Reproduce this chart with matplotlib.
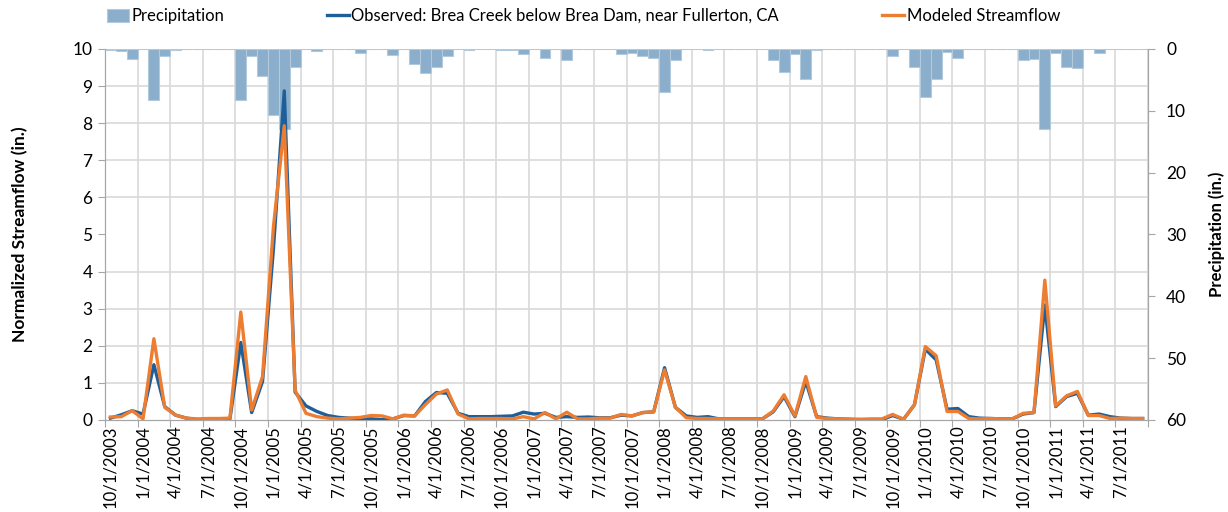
import numpy as np
import pandas as pd
import matplotlib
matplotlib.use("Agg")
import matplotlib.pyplot as plt

plt.rcParams['font.family'] = ['Lato', 'DejaVu Sans']

# monthly series, 10/2003 .. 9/2011
months = pd.date_range('2003-10-01', periods=96, freq='MS')

observed = [
    0.05, 0.14, 0.25, 0.16, 1.49, 0.36, 0.13, 0.05, 0.01, 0.00, 0.02, 0.03,
    2.09, 0.20, 1.04, 4.60, 8.87, 0.75, 0.38, 0.23, 0.12, 0.07, 0.05, 0.03,
    0.03, 0.01, 0.03, 0.12, 0.11, 0.50, 0.74, 0.72, 0.18, 0.09, 0.09, 0.09,
    0.10, 0.11, 0.21, 0.16, 0.18, 0.07, 0.09, 0.07, 0.08, 0.06, 0.06, 0.13,
    0.11, 0.20, 0.22, 1.41, 0.34, 0.11, 0.07, 0.09, 0.03, 0.03, 0.03, 0.03,
    0.03, 0.22, 0.63, 0.09, 1.04, 0.09, 0.05, 0.03, 0.02, 0.01, 0.00, 0.01,
    0.12, 0.02, 0.41, 1.91, 1.62, 0.29, 0.31, 0.09, 0.05, 0.04, 0.03, 0.03,
    0.16, 0.20, 3.10, 0.36, 0.63, 0.72, 0.13, 0.16, 0.09, 0.05, 0.04, 0.04,
]

modeled = [
    0.08, 0.09, 0.25, 0.03, 2.19, 0.34, 0.13, 0.05, 0.03, 0.04, 0.04, 0.05,
    2.91, 0.27, 1.17, 5.20, 7.93, 0.80, 0.18, 0.09, 0.05, 0.03, 0.05, 0.07,
    0.12, 0.11, 0.03, 0.13, 0.11, 0.42, 0.70, 0.81, 0.16, 0.03, 0.04, 0.04,
    0.04, 0.03, 0.09, 0.03, 0.20, 0.03, 0.21, 0.03, 0.03, 0.05, 0.05, 0.15,
    0.11, 0.20, 0.22, 1.35, 0.34, 0.06, 0.04, 0.04, 0.03, 0.03, 0.03, 0.03,
    0.03, 0.24, 0.68, 0.11, 1.17, 0.07, 0.04, 0.03, 0.02, 0.02, 0.03, 0.03,
    0.15, 0.02, 0.41, 1.98, 1.73, 0.23, 0.23, 0.04, 0.03, 0.04, 0.03, 0.03,
    0.18, 0.20, 3.77, 0.38, 0.65, 0.77, 0.12, 0.12, 0.04, 0.05, 0.04, 0.04,
]

precip = [
    0.2, 0.3, 1.6, 0.0, 8.3, 1.2, 0.2, 0.0, 0.0, 0.0, 0.0, 0.0,
    8.3, 1.1, 4.3, 10.7, 13.0, 2.9, 0.0, 0.3, 0.0, 0.0, 0.0, 0.6,
    0.0, 0.0, 0.9, 0.0, 2.5, 3.9, 2.9, 1.2, 0.0, 0.1, 0.0, 0.0,
    0.15, 0.2, 0.75, 0.0, 1.5, 0.0, 1.7, 0.0, 0.0, 0.0, 0.0, 0.75,
    0.6, 1.2, 1.5, 6.9, 1.7, 0.0, 0.0, 0.2, 0.0, 0.0, 0.0, 0.0,
    0.0, 1.8, 3.7, 0.75, 4.9, 0.2, 0.0, 0.0, 0.0, 0.0, 0.0, 0.0,
    1.1, 0.0, 2.9, 7.8, 4.9, 0.5, 1.5, 0.0, 0.0, 0.0, 0.0, 0.0,
    1.8, 1.6, 12.9, 0.7, 2.9, 3.0, 0.0, 0.7, 0.0, 0.0, 0.0, 0.0,
]

x = np.arange(len(months))
tick_labels = [f"{d.month}/1/{d.year}" for d in months[::3]]

grid_col = '#d9d9d9'
spine_col = '#a6a6a6'

fig = plt.figure(figsize=(12.28, 5.12), dpi=100)
ax_p = fig.add_axes([0.0855, 0.1797, 0.8494, 0.7246])
ax_f = ax_p.twinx()

# precipitation on the back axis, inverted, right side
ax_p.bar(x, precip, width=1.0, color='#8aaecb', edgecolor='#b3cadd',
         linewidth=0.8, zorder=2, label='Precipitation')
ax_p.set_ylim(60, 0)
ax_p.set_xlim(-0.5, len(months) - 0.5)
ax_p.yaxis.tick_right()
ax_p.yaxis.set_label_position('right')
ax_p.set_yticks(np.arange(0, 61, 10))
ax_p.set_yticks(np.arange(0, 61, 6), minor=True)
ax_p.grid(True, which='minor', axis='y', color=grid_col, linewidth=1.2, zorder=0)
ax_p.set_xticks(np.arange(-0.5, len(months), 3))
ax_p.set_xticks(x[::3], minor=True)
ax_p.set_xticklabels([])
ax_p.set_xticklabels(tick_labels, minor=True, rotation=90, fontsize=12)
ax_p.grid(True, which='major', axis='x', color=grid_col, linewidth=1.2, zorder=0)
ax_p.set_axisbelow(True)
ax_p.tick_params(axis='x', which='major', length=5, color=spine_col)
ax_p.tick_params(axis='x', which='minor', length=0, pad=4)
ax_p.tick_params(axis='y', which='major', length=5, color=spine_col,
                 labelsize=12.5, pad=8)
ax_p.tick_params(axis='y', which='minor', length=0)
ax_p.set_ylabel('Precipitation (in.)', fontsize=12, fontweight='bold', labelpad=16)

# streamflow on the front axis, left side
ax_f.plot(x, observed, color='#1f5f99', linewidth=2.4,
          label='Observed: Brea Creek below Brea Dam, near Fullerton, CA')
ax_f.plot(x, modeled, color='#ed7d31', linewidth=2.4, label='Modeled Streamflow')
ax_f.set_ylim(0, 10)
ax_f.yaxis.tick_left()
ax_f.yaxis.set_label_position('left')
ax_f.set_yticks(np.arange(0, 11, 1))
ax_f.tick_params(axis='y', length=5, color=spine_col, labelsize=12.5, pad=4)
ax_f.set_ylabel('Normalized Streamflow (in.)', fontsize=12.5, fontweight='bold', labelpad=32)

for a in (ax_p, ax_f):
    a.spines['top'].set_visible(False)
    for s in ('left', 'right', 'bottom'):
        a.spines[s].set_color(spine_col)

handles = []
labels = []
for a in (ax_p, ax_f):
    h, l = a.get_legend_handles_labels()
    handles += h
    labels += l
fig.legend(handles, labels, loc='center left', bbox_to_anchor=(0.087, 1 - 16 / 512),
           ncol=3, frameon=False, fontsize=12, borderpad=0, borderaxespad=0,
           handlelength=1.3, handletextpad=0.15, columnspacing=6.2,
           handleheight=0.8)

fig.savefig('out.png', dpi=100)
